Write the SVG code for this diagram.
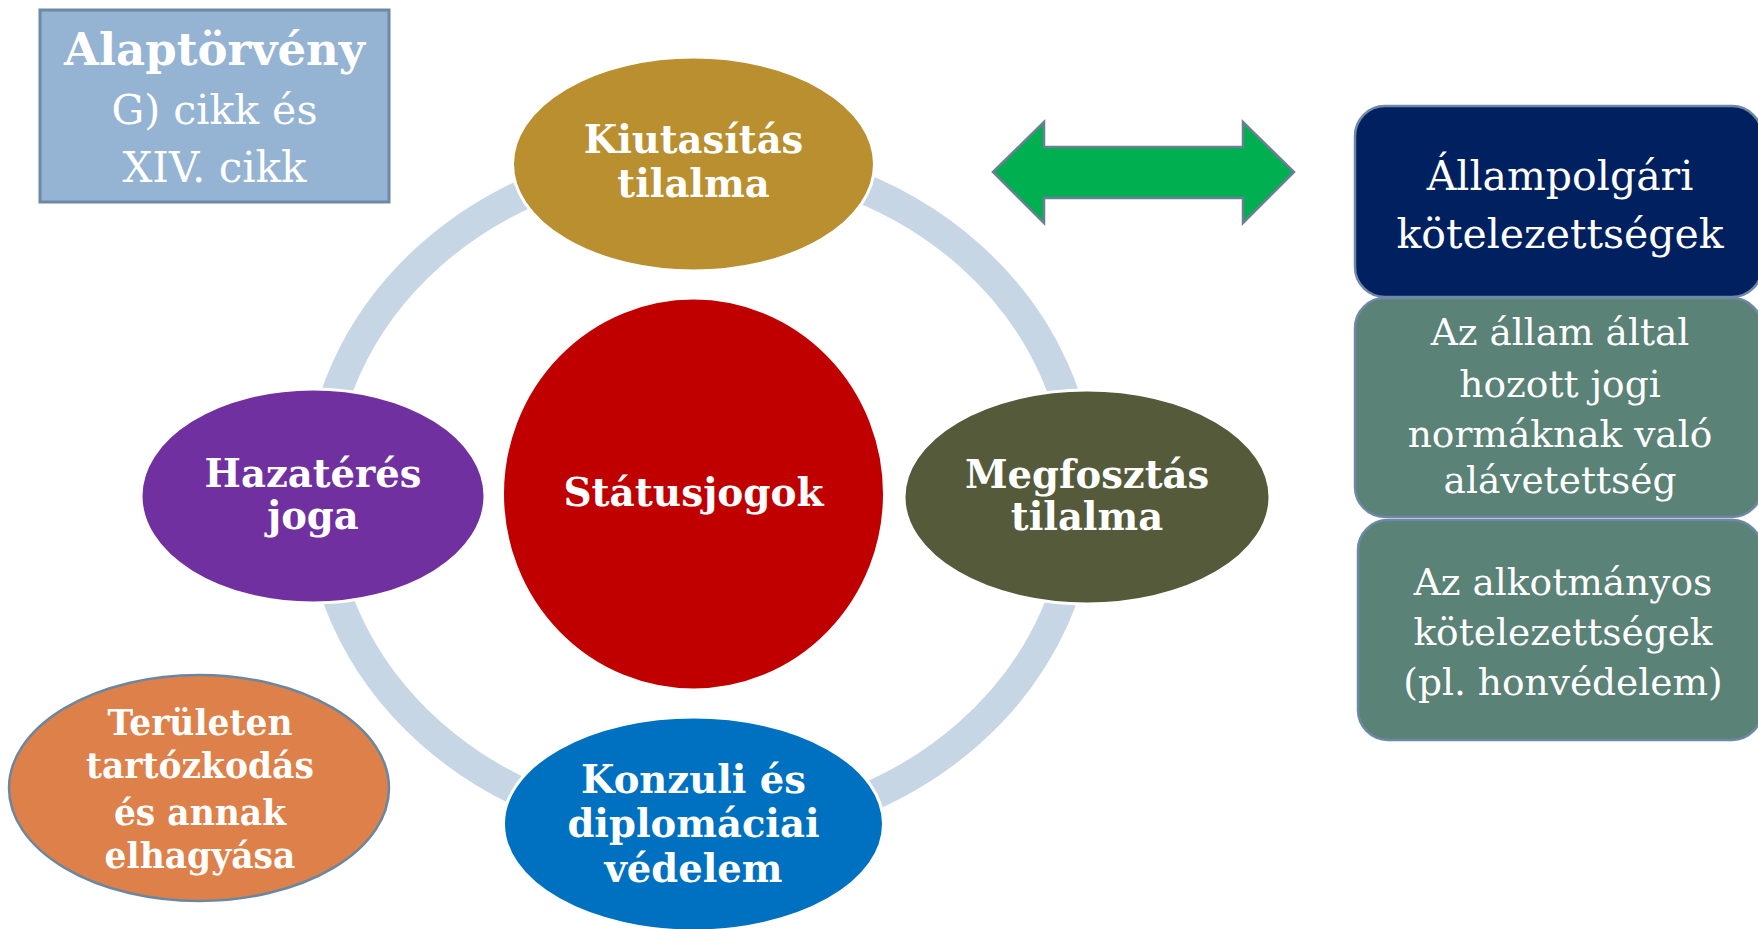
<svg xmlns="http://www.w3.org/2000/svg" width="1758" height="929" viewBox="0 0 1758 929">
<style>
text{font-family:"DejaVu Serif","Liberation Serif",serif;fill:#fff;text-anchor:middle}
.b{font-weight:bold}
.n{font-size:38.5px}
.node{stroke:#fff;stroke-width:3}
.box{stroke:#6F88A6;stroke-width:2.5}
</style>
<rect width="1758" height="929" fill="#fff"/>
<g id="connectors">
<ellipse cx="700" cy="494" rx="381" ry="338" fill="none" stroke="#C6D6E5" stroke-width="30"/>
<polygon id="double-arrow" points="993,172 1044,122 1044,147 1243,147 1243,122 1294,172 1243,223 1243,198 1044,198 1044,223" fill="#00B050" stroke="#6A7F96" stroke-width="2.5" stroke-linejoin="miter"/>
</g>
<g id="alaptorveny">
<rect x="40" y="10" width="349" height="192" fill="#95B3D3" stroke="#6D8AA5" stroke-width="3"/>
<text x="214.5" y="65" class="b" font-size="45">Alaptörvény</text>
<text x="214.5" y="124" font-size="41">G) cikk és</text>
<text x="214.5" y="182" font-size="42">XIV. cikk</text>
</g>
<g id="kiutasitas">
<ellipse class="node" cx="693.5" cy="164" rx="181" ry="107" fill="#B98F30"/>
<text x="693.5" y="153" class="b n">Kiutasítás</text>
<text x="693.5" y="197" class="b n">tilalma</text>
</g>
<g id="hazateres">
<ellipse class="node" cx="313" cy="496" rx="172" ry="107" fill="#7030A0"/>
<text x="313" y="487" class="b n">Hazatérés</text>
<text x="313" y="529" class="b n">joga</text>
</g>
<g id="megfosztas">
<ellipse class="node" cx="1087" cy="497" rx="183" ry="107" fill="#545A3A"/>
<text x="1087" y="488" class="b n">Megfosztás</text>
<text x="1087" y="530" class="b n">tilalma</text>
</g>
<g id="konzuli">
<ellipse class="node" cx="693.5" cy="824" rx="190" ry="107" fill="#0070C0"/>
<text x="693.5" y="793" class="b n">Konzuli és</text>
<text x="693.5" y="837" class="b n">diplomáciai</text>
<text x="693.5" y="882" class="b n">védelem</text>
</g>
<g id="statusjogok">
<ellipse class="node" cx="693.5" cy="494" rx="191" ry="196" fill="#C00000"/>
<text x="693.5" y="506" class="b" font-size="39">Státusjogok</text>
</g>
<g id="teruleten">
<ellipse cx="199" cy="788" rx="190" ry="113" fill="#DE8049" stroke="#6B87A0" stroke-width="2.5"/>
<text x="200" y="735" class="b" font-size="34.5">Területen</text>
<text x="200" y="778" class="b" font-size="34.5">tartózkodás</text>
<text x="200" y="825" class="b" font-size="34.5">és annak</text>
<text x="200" y="868" class="b" font-size="34.5">elhagyása</text>
</g>
<g id="allampolgari">
<rect class="box" x="1355" y="106" width="407" height="191" rx="30" fill="#002060"/>
<text x="1560" y="190" font-size="41">Állampolgári</text>
<text x="1560" y="248" font-size="41">kötelezettségek</text>
</g>
<g id="alavetettseg">
<rect class="box" x="1355" y="298" width="407" height="219" rx="30" fill="#5A8276"/>
<text x="1560" y="345" font-size="37.5">Az állam által</text>
<text x="1560" y="397" font-size="37.5">hozott jogi</text>
<text x="1560" y="447" font-size="37.5">normáknak való</text>
<text x="1560" y="493" font-size="37.5">alávetettség</text>
</g>
<g id="alkotmanyos">
<rect class="box" x="1358" y="520" width="404" height="220" rx="30" fill="#5A8276"/>
<text x="1563" y="595" font-size="37.5">Az alkotmányos</text>
<text x="1563" y="645" font-size="37.5">kötelezettségek</text>
<text x="1563" y="695" font-size="37.5">(pl. honvédelem)</text>
</g>
</svg>
